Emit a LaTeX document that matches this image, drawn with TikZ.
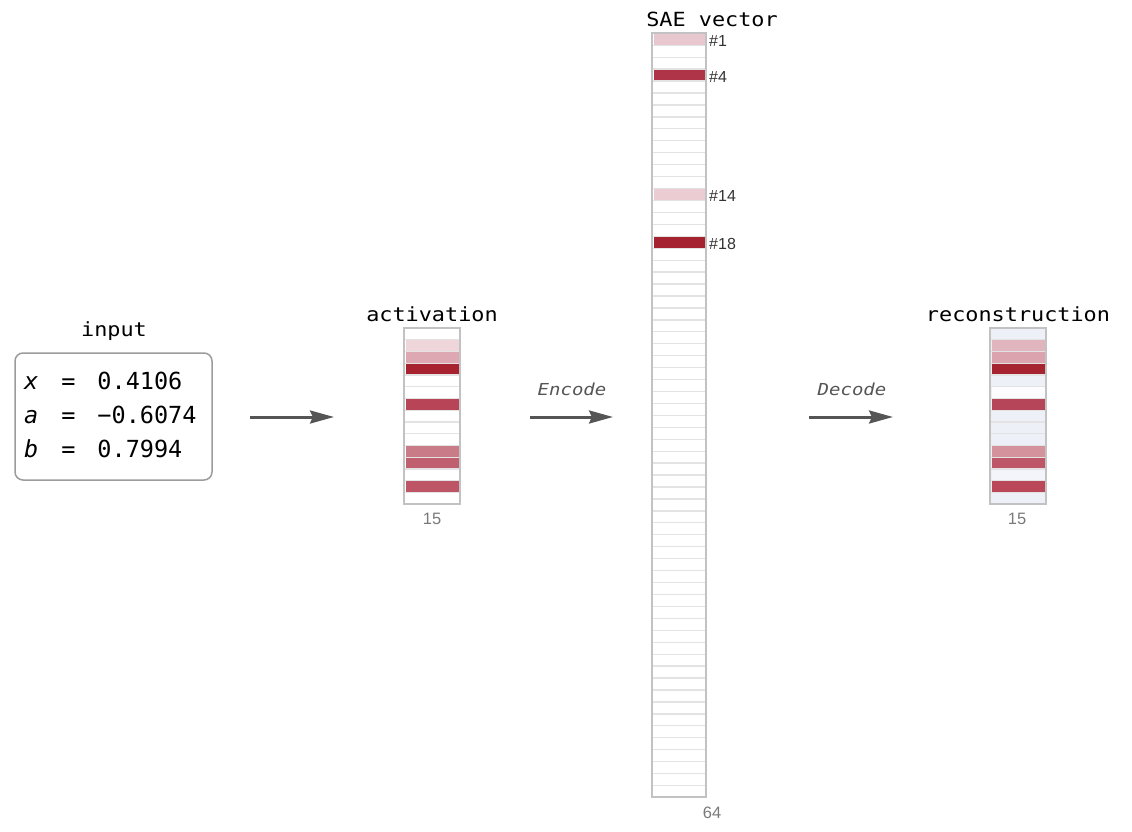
\documentclass[tikz,border=0pt]{standalone}
\usepackage{fontspec}
\setmainfont{Liberation Sans}
\newfontfamily\codefont[FakeStretch=1.12]{DejaVu Sans Mono}
\newfontfamily\valfont{DejaVu Sans Mono}
\newfontfamily\opfont[FakeStretch=1.15]{DejaVu Sans Mono}
\usetikzlibrary{arrows.meta, positioning}

\definecolor{framegray}{HTML}{C2C2C2}
\definecolor{sepgray}{HTML}{E3E3E3}
\definecolor{boxgray}{HTML}{9C9C9C}
\definecolor{arrowgray}{HTML}{555555}
\definecolor{countgray}{HTML}{7A7A7A}
\definecolor{recbase}{HTML}{EEF0F8}
% activation cells
\definecolor{actA}{HTML}{EFD6DB}
\definecolor{actB}{HTML}{DDA8B2}
\definecolor{actC}{HTML}{A72330}
\definecolor{actD}{HTML}{B84557}
\definecolor{actE}{HTML}{CA7B88}
\definecolor{actF}{HTML}{C05F6F}
\definecolor{actG}{HTML}{BD5566}
% SAE cells
\definecolor{saeA}{HTML}{E9C7CE}
\definecolor{saeB}{HTML}{B03448}
\definecolor{saeC}{HTML}{ECCCD3}
\definecolor{saeD}{HTML}{A52330}
% reconstruction cells
\definecolor{recA}{HTML}{E0B5BE}
\definecolor{recB}{HTML}{DBA3AD}
\definecolor{recC}{HTML}{A62330}
\definecolor{recD}{HTML}{FCFCFE}
\definecolor{recE}{HTML}{B74559}
\definecolor{recF}{HTML}{D4929D}
\definecolor{recG}{HTML}{BD5667}
\definecolor{recH}{HTML}{BA4859}
\definecolor{recI}{HTML}{F4F5FA}

\tikzset{
    cellsep/.style={draw=sepgray, line width=1.3pt},
    colframe/.style={draw=framegray, line width=2pt, inner sep=0pt, outer sep=0pt},
    inbox/.style={draw=boxgray, line width=1.5pt, rounded corners=8pt},
    title/.style={font=\codefont\fontsize{19.5}{22}\selectfont, anchor=base, inner sep=0pt},
    optext/.style={font=\opfont\itshape\fontsize{16.5}{18}\selectfont, text=arrowgray, anchor=base, inner sep=0pt},
    flow/.style={draw=arrowgray, line width=3pt, -{Stealth[length=24pt, width=13pt, inset=3pt]}},
    idx/.style={font=\fontsize{16}{18}\selectfont, text=black!80, anchor=west, inner sep=0pt},
    count/.style={font=\fontsize{16.5}{18}\selectfont, text=countgray, inner sep=0pt}
}

\newcommand{\VecColumn}[8]{%
    % #1 name, #2 left, #3 top, #4 width, #5 cells, #6 cell height, #7 base fill, #8 row/colour list
    \fill[#7] (#2,#3) rectangle ++(#4,{#5*#6});
    \pgfmathtruncatemacro{\VecLast}{#5-1}%
    \foreach \r in {1,...,\VecLast} {
        \draw[cellsep] ({#2+1},{#3+\r*#6}) -- ++({#4-2},0);
    }
    \foreach \r/\col in {#8} {
        \fill[\col] ({#2+1.5},{#3+\r*#6+0.6}) rectangle ++({#4-3},{#6-1.2});
    }
    \node[colframe, anchor=north west, minimum width=#4, minimum height={#5*#6}] (#1) at (#2,#3) {};
}

\begin{document}
\begin{tikzpicture}[x=1pt, y=-1pt]
    \useasboundingbox[fill=white] (0,0) rectangle (1132,832);

    % input box
    \node[inbox, minimum width=197, minimum height=127] (in) at (113.5,416.5) {};
    \node[title] (inlabel) at (114,336) {input};
    \node[anchor=west, inner sep=0pt] (vals) at (24,417) {%
        \valfont\fontsize{23.5}{34}\selectfont
        \begin{tabular}{@{}l@{\hspace{23pt}}c@{\hspace{22pt}}l@{}}
            \textit{x} & = & 0.4106\\
            \textit{a} & = & −0.6074\\
            \textit{b} & = & 0.7994
        \end{tabular}};

    % activation
    \VecColumn{act}{404}{328}{56}{15}{11.75}{white}%
        {1/actA,2/actB,3/actC,6/actD,10/actE,11/actF,13/actG}
    \node[title] (actlabel) at (432,321) {activation};
    \node[count] (actn) at (432,519) {15};

    % SAE vector
    \VecColumn{sae}{652}{33.3}{54}{64}{11.94}{white}%
        {0/saeA,3/saeB,13/saeC,17/saeD}
    \node[title] (saelabel) at (712,26.5) {SAE vector};
    \node[count] (saen) at (712,813) {64};
    \foreach \r/\n in {0/1,3/4,13/14,17/18} {
        \node[idx] (f\n) at (709,{33.3+(\r+0.5)*11.94+1.8}) {\#\n};
    }

    % reconstruction
    \VecColumn{rec}{990}{328}{56}{15}{11.75}{recbase}%
        {1/recA,2/recB,3/recC,5/recD,6/recE,10/recF,11/recG,12/recI,13/recH}
    \node[title] (reclabel) at (1018,321) {reconstruction};
    \node[count] (recn) at (1017,519) {15};

    % arrows
    \coordinate (a1s) at (250,417);
    \coordinate (a1e) at (334,417);
    \coordinate (encs) at (530,417);
    \coordinate (ence) at (613,417);
    \coordinate (decs) at (809,417);
    \coordinate (dece) at (893,417);
    \draw[flow] (a1s) -- (a1e);
    \draw[flow] (encs) -- (ence);
    \draw[flow] (decs) -- (dece);
    \node[optext] (enc) at (572,395.5) {Encode};
    \node[optext] (dec) at (852,395.5) {Decode};
\end{tikzpicture}
\end{document}
